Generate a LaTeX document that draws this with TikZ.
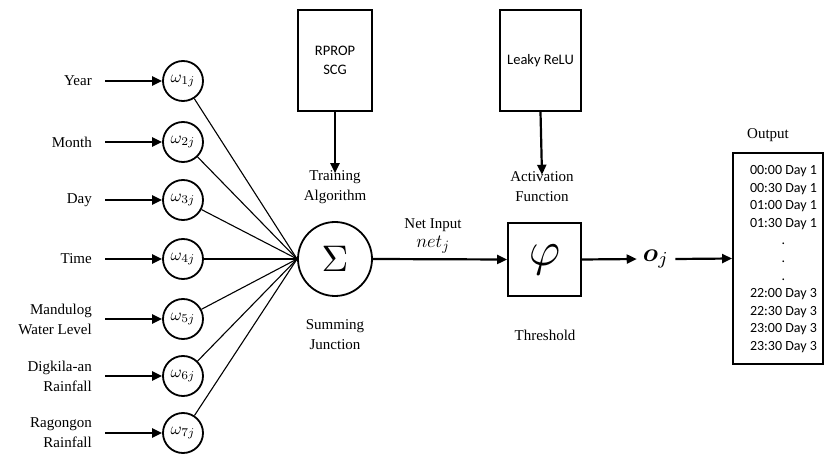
\documentclass[tikz,border=0pt]{standalone}
\usepackage{bm}
\usepackage{fontspec}
\setmainfont{Liberation Serif}
\newfontfamily\boxfont{Carlito}
\usetikzlibrary{arrows.meta}

\begin{document}
\begin{tikzpicture}[x=1pt,y=-1pt,
  wnode/.style={circle, draw, line width=1.8pt, minimum size=40pt, inner sep=0pt},
  inlabel/.style={anchor=east, align=right, inner sep=0pt,
                  font=\fontsize{15}{20}\selectfont},
  caption/.style={align=center, inner sep=0pt, font=\fontsize{15}{20}\selectfont},
  arr/.style={-{Triangle[length=10pt,width=9pt]}, line width=2.2pt},
  link/.style={line width=1.1pt},
  blockbox/.style={draw, line width=1.8pt, minimum width=74pt, minimum height=101pt,
                   inner sep=0pt, align=center, font=\boxfont\fontsize{14.5}{19}\selectfont}
]
\useasboundingbox (0,0) rectangle (825,457);

% input variables and their weights
\foreach \i/\y/\txt in {1/81/Year, 2/142/Month, 3/200/Day, 4/259/Time,
                        5/319/{Mandulog\\Water Level}, 6/376/{Digkila-an\\Rainfall},
                        7/433/{Ragongon\\Rainfall}} {
  \node[wnode] (w\i) at (183,\y) {\scalebox{1.7}{$\omega_{\i j}$}};
  \node[inlabel] (in\i) at (92,\y) {\txt};
  \draw[arr] ([xshift=-57pt]w\i.west) -- (w\i.west);
}

% summing junction
\node[circle, draw, line width=1.8pt, minimum size=74pt, inner sep=0pt] (sum) at (335,259)
  {\scalebox{3.7}{$\Sigma$}};
\foreach \i in {1,...,7} \draw[link] (w\i) -- (sum.west);
\node[caption] (sumlab) at (335,335) {Summing\\Junction};

% training algorithm block
\node[blockbox] (train) at (335,60.5) {RPROP\\SCG};
\node[caption] (trainlab) at (335,187) {Training\\Algorithm};
\draw[arr] (train.south) -- ([yshift=-3pt]trainlab.north);

% activation function block
\node[blockbox, minimum width=81pt] (act) at (540.5,60.5) {Leaky ReLU};
\node[caption] (actlab) at (542,187) {Activation\\Function};
\draw[arr] (act.south) -- ([yshift=-3pt]actlab.north);

% threshold block
\node[draw, line width=1.8pt, minimum width=73pt, minimum height=73pt, inner sep=0pt]
  (phi) at (544.5,259.5) {\scalebox{4.8}{$\varphi$}};
\node[caption] (thrlab) at (545,335) {Threshold};

\draw[arr] (sum.east) -- (phi.west);
\node[caption] (netlab) at (433,236) {Net Input\\[-1pt]\scalebox{1.3}{$net_j$}};

% output
\node[inner sep=2pt] (oj) at (656,259) {\scalebox{2.6}{$\bm{o}_{j}$}};
\draw[arr] (phi.east) -- ([xshift=-4pt]oj.west);

\node[draw, line width=1.8pt, minimum width=90pt, minimum height=211pt, inner sep=0pt]
  (outbox) at (778,258.5) {};
\node[align=center, inner sep=0pt, font=\boxfont\fontsize{14}{17.6}\selectfont]
  (outlist) at (783.5,259) {00:00 Day 1\\00:30 Day 1\\01:00 Day 1\\01:30 Day 1\\.\\.\\.\\
    22:00 Day 3\\22:30 Day 3\\23:00 Day 3\\23:30 Day 3};
\node[caption] (outlab) at (768,135) {Output};
\draw[arr] ([xshift=4pt]oj.east) -- (outbox.west);
\end{tikzpicture}
\end{document}
